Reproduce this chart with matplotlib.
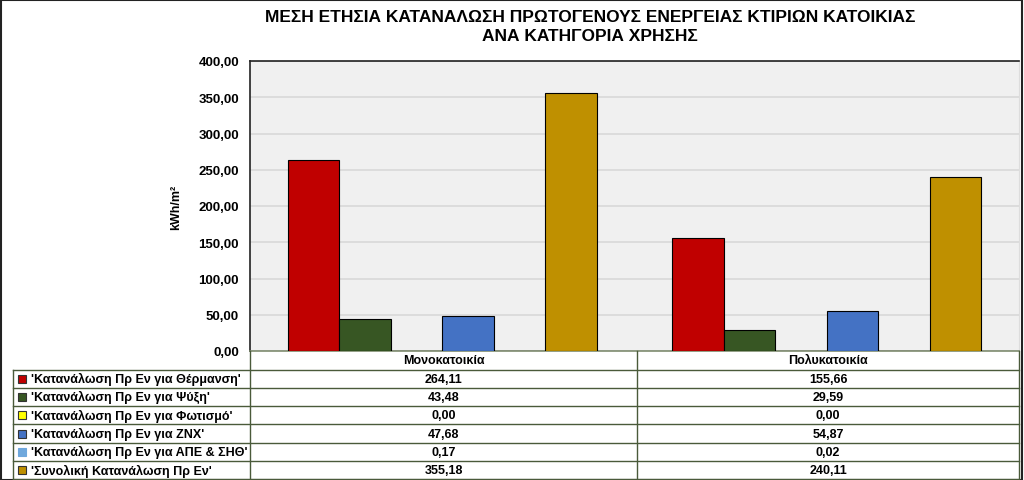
import numpy as np
import matplotlib.pyplot as plt
from matplotlib.lines import Line2D
from matplotlib.patches import Rectangle

plt.rcParams['font.family'] = ['Liberation Sans', 'DejaVu Sans']

categories = ["Μονοκατοικία", "Πολυκατοικία"]
series_names = ["'Κατανάλωση Πρ Εν για Θέρμανση'",
                "'Κατανάλωση Πρ Εν για Ψύξη'",
                "'Κατανάλωση Πρ Εν για Φωτισμό'",
                "'Κατανάλωση Πρ Εν για ΖΝΧ'",
                "'Κατανάλωση Πρ Εν για ΑΠΕ & ΣΗΘ'",
                "'Συνολική Κατανάλωση Πρ Εν'"]
heating = [264.11, 155.66]
cooling = [43.48, 29.59]
lighting = [0.00, 0.00]
dhw = [47.68, 54.87]
res_chp = [0.17, 0.02]
total = [355.18, 240.11]
values = [heating, cooling, lighting, dhw, res_chp, total]
colors = ["#C00000", "#375623", "#FFFF00", "#4472C4", "#6FA8DC", "#BF9000"]
yticks = [0, 50, 100, 150, 200, 250, 300, 350, 400]

W, H = 1024, 481
fig = plt.figure(figsize=(W / 100, H / 100), dpi=100)

def fx(x):
    return x / W

def fy(y):
    return 1 - y / H

def fmt(v):
    return ("%.2f" % v).replace(".", ",")

# plot area
ax = fig.add_axes([fx(250), fy(352), fx(1019) - fx(250), fy(62) - fy(352)])
ax.set_facecolor("#F0F0F0")
w = 0.134
x = np.arange(len(categories))
for j, vals in enumerate(values):
    ax.bar(x + (j - 2.5) * w, vals, w, color=colors[j], edgecolor="black", linewidth=0.8, zorder=3)
ax.set_xlim(-0.5, 1.5)
ax.set_ylim(0, 400)
ax.set_yticks(yticks)
ax.set_yticklabels([fmt(v) for v in yticks], fontsize=9.5, fontweight="bold")
ax.yaxis.set_tick_params(length=0, pad=8)
ax.set_xticks([])
ax.grid(axis="y", color="#D9D9D9", linewidth=1.2, zorder=0)
for s in ["top", "left"]:
    ax.spines[s].set_color("#222222")
    ax.spines[s].set_linewidth(1.2)
ax.spines["right"].set_color("#DDDDDD")
ax.spines["bottom"].set_color("#7F8C70")
ax.spines["bottom"].set_linewidth(1.2)
ax.set_ylabel("kWh/m²", fontsize=9, fontweight="bold")
ax.yaxis.set_label_coords(-0.088, 0.5)

# title
fig.text(fx(590), fy(18), "ΜΕΣΗ ΕΤΗΣΙΑ ΚΑΤΑΝΑΛΩΣΗ ΠΡΩΤΟΓΕΝΟΥΣ ΕΝΕΡΓΕΙΑΣ ΚΤΙΡΙΩΝ ΚΑΤΟΙΚΙΑΣ",
         ha="center", va="center", fontsize=12.5, fontweight="bold")
fig.text(fx(590), fy(37), "ΑΝΑ ΚΑΤΗΓΟΡΙΑ ΧΡΗΣΗΣ",
         ha="center", va="center", fontsize=12.5, fontweight="bold")

# data table
line_c = "#4A5A3A"
row_y = [352, 370.5, 388.8, 407.1, 425.4, 443.7, 462, 480]
col_x = [13, 250, 637, 1019]

def hline(y, x0, x1):
    fig.add_artist(Line2D([fx(x0), fx(x1)], [fy(y), fy(y)], color=line_c, linewidth=1.0))

def vline(x, y0, y1):
    fig.add_artist(Line2D([fx(x), fx(x)], [fy(y0), fy(y1)], color=line_c, linewidth=1.0))

for y in row_y[1:]:
    hline(y, col_x[0], col_x[3])
vline(col_x[0], row_y[1], row_y[-1])
vline(col_x[1], row_y[0], row_y[-1])
vline(col_x[2], row_y[0], row_y[-1])
vline(col_x[3], row_y[0], row_y[-1])

for i, cat in enumerate(categories):
    cx = (col_x[i + 1] + col_x[i + 2]) / 2
    fig.text(fx(cx), fy((row_y[0] + row_y[1]) / 2), cat, ha="center", va="center",
             fontsize=9, fontweight="bold")

for j, name in enumerate(series_names):
    yc = (row_y[j + 1] + row_y[j + 2]) / 2
    fig.add_artist(Rectangle((fx(18), fy(yc + 4)), fx(8), fy(yc - 4) - fy(yc + 4),
                             transform=fig.transFigure, facecolor=colors[j],
                             edgecolor="#333333" if j != 4 else colors[j], linewidth=0.8))
    fig.text(fx(31), fy(yc), name, ha="left", va="center", fontsize=9, fontweight="bold")
    for i in range(len(categories)):
        cx = (col_x[i + 1] + col_x[i + 2]) / 2
        fig.text(fx(cx), fy(yc), fmt(values[j][i]),
                 ha="center", va="center", fontsize=9, fontweight="bold")

# outer border
fig.add_artist(Rectangle((0.001, 0.001), 0.997, 0.997, transform=fig.transFigure,
                         fill=False, edgecolor="#222222", linewidth=1.5))

fig.savefig("out.png", dpi=100)
